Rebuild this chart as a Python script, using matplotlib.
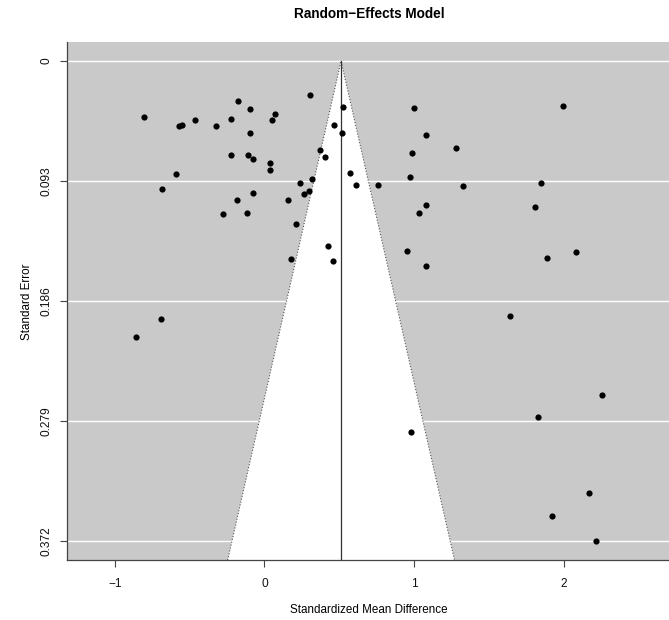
import numpy as np
import matplotlib
matplotlib.use('Agg')
import matplotlib.pyplot as plt

plt.rcParams['font.family'] = ['Liberation Sans', 'DejaVu Sans']

# observed effects (standardized mean difference) and their standard errors
smd = [-0.802, -0.178, -0.094, 0.307, 0.528, 0.070, 0.049, -0.221, -0.461, -0.325,
       -0.572, -0.550, -0.096, 0.468, 0.517, 0.370, 0.406, -0.221, -0.109, -0.078,
       0.040, 0.036, -0.588, 0.571, 0.611, 0.317, 0.237, 0.301, 0.267, -0.686,
       -0.074, -0.180, 0.160, -0.274, -0.116, 0.214, 0.428, 0.178, 0.459, 0.762,
       1.001, 1.083, 1.281, 0.989, 0.974, 1.326, 1.083, 1.034, 1.997, 1.848,
       1.811, 0.956, 1.083, 1.888, 2.084, -0.691, -0.860, 1.640, 2.259, 1.828,
       0.983, 2.170, 1.925, 2.215]
se = [0.0432, 0.0308, 0.0372, 0.0261, 0.0357, 0.0411, 0.0460, 0.0452, 0.0460, 0.0506,
      0.0504, 0.0494, 0.0558, 0.0496, 0.0560, 0.0690, 0.0744, 0.0726, 0.0726, 0.0757,
      0.0793, 0.0847, 0.0876, 0.0866, 0.0964, 0.0912, 0.0946, 0.1008, 0.1033, 0.0995,
      0.1026, 0.1080, 0.1078, 0.1184, 0.1181, 0.1264, 0.1434, 0.1537, 0.1548, 0.0959,
      0.0362, 0.0571, 0.0672, 0.0713, 0.0897, 0.0967, 0.1114, 0.1176, 0.0347, 0.0948,
      0.1129, 0.1475, 0.1587, 0.1529, 0.1481, 0.2002, 0.2140, 0.1979, 0.2591, 0.2762,
      0.2874, 0.3347, 0.3525, 0.3721]
est = 0.513  # pooled random-effects estimate
yticks = [0, 0.093, 0.186, 0.279, 0.372]
ytick_labels = ['0', '0.093', '0.186', '0.279', '0.372']
xticks = [-1, 0, 1, 2]

xlim = (-1.321, 2.705)
ylim = (0.3868, -0.0150)

fig = plt.figure(figsize=(6.69, 6.20), dpi=100)
ax = fig.add_axes([66.7 / 669, 60 / 620, 1 - 66.7 / 669, 518.3 / 620])
ax.set_facecolor('#c9c9c9')

for t in yticks:
    ax.axhline(t, color='white', lw=1.0, zorder=1)

ymax = ylim[0]
fx = [est - 1.96 * ymax, est, est + 1.96 * ymax]
fy = [ymax, 0, ymax]
ax.fill(fx, fy, color='white', zorder=2, lw=0)
ax.plot(fx, fy, ls=':', color='#555555', lw=0.8, zorder=3)
ax.plot([est, est], [0, ymax], color='#333333', lw=0.9, zorder=3)

ax.scatter(smd, se, s=20, color='black', zorder=4, lw=0)

ax.set_xlim(*xlim)
ax.set_ylim(*ylim)
ax.set_xticks(xticks)
ax.set_yticks(yticks)
ax.set_yticklabels(ytick_labels, rotation=90, va='center')

for s in ['top', 'right']:
    ax.spines[s].set_visible(False)
for s in ['left', 'bottom']:
    ax.spines[s].set_color('#444444')
    ax.spines[s].set_linewidth(0.9)
ax.tick_params(direction='out', length=5, width=0.8, color='#444444',
               labelsize=8.6, labelcolor='#111111')
ax.tick_params(axis='x', pad=8)
ax.tick_params(axis='y', pad=5)

ax.set_xlabel('Standardized Mean Difference', fontsize=8.4, va='center')
ax.xaxis.set_label_coords((369 - 66.7) / 602.3, (560 - 610) / 518.3)
ax.set_ylabel('Standard Error', fontsize=8.4, va='center')
ax.yaxis.set_label_coords((27 - 66.7) / 602.3, (560 - 302) / 518.3)

fig.text(369 / 669, 1 - 14 / 620, 'Random\u2212Effects Model', ha='center', va='center',
         fontsize=9.8, fontweight='bold')

fig.savefig('out.png', dpi=100)
